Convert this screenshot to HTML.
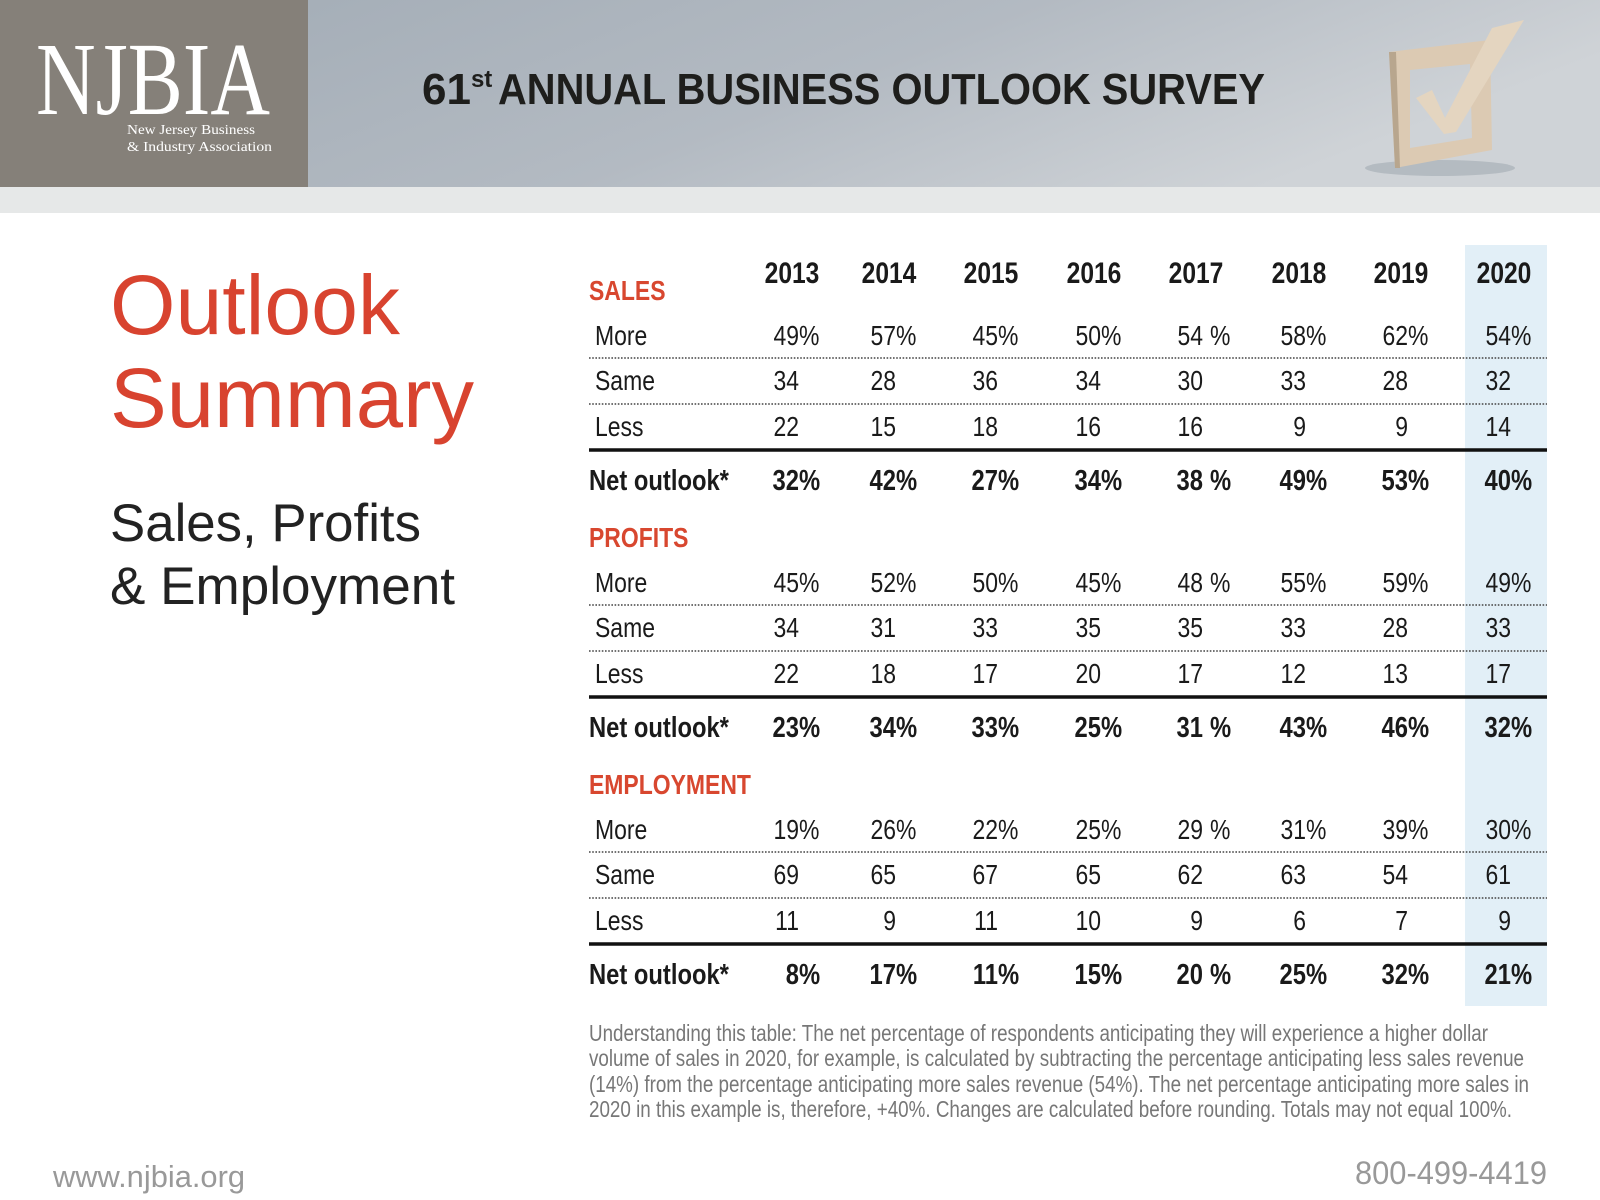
<!DOCTYPE html>
<html><head><meta charset="utf-8"><style>
html,body{margin:0;padding:0;background:#fff;width:1600px;height:1200px;overflow:hidden}
svg{display:block}
</style></head><body>
<svg id="page" xmlns="http://www.w3.org/2000/svg" width="1600" height="1200" viewBox="0 0 1600 1200">
<defs>
<linearGradient id="ban" x1="0" y1="0" x2="1" y2="0.3">
<stop offset="0" stop-color="#a0aab4"/><stop offset="0.6" stop-color="#b3bac2"/><stop offset="1" stop-color="#cfd3d7"/>
</linearGradient>
</defs>
<rect x="0" y="0" width="1600" height="187" fill="url(#ban)"/>
<rect x="0" y="187" width="1600" height="26" fill="#e6e8e8"/>
<rect x="0" y="0" width="308" height="187" fill="#858079"/>
<g>
<text x="36" y="114" font-family="Liberation Serif, serif" font-size="104" fill="#fff" textLength="234" lengthAdjust="spacingAndGlyphs">NJBIA</text>
<text x="127" y="134" font-family="Liberation Serif, serif" font-size="14" fill="#fff" textLength="128" lengthAdjust="spacingAndGlyphs">New Jersey Business</text>
<text x="127" y="151" font-family="Liberation Serif, serif" font-size="14" fill="#fff" textLength="145" lengthAdjust="spacingAndGlyphs">&amp; Industry Association</text>
</g>
<g font-family="Liberation Sans, sans-serif" font-weight="bold" fill="#1e1e1c">
<text x="422" y="104" font-size="44">61<tspan font-size="24" dy="-17">st</tspan></text>
<text x="498" y="104" font-size="44" textLength="767" lengthAdjust="spacingAndGlyphs">ANNUAL BUSINESS OUTLOOK SURVEY</text>
</g>
<g>
<ellipse cx="1440" cy="168" rx="75" ry="8" fill="#9aa3ac" opacity="0.5"/>
<path d="M1389 52 L1490 40 L1492 150 L1395 168 Z M1410 70 L1410 148 L1472 138 L1470 64 Z" fill="#dccab3" fill-rule="evenodd"/>
<path d="M1389 52 L1395 168 L1400 168 L1396 52 Z" fill="#b8a68e"/>
<path d="M1416 98 L1432 90 L1445 118 L1492 28 L1524 20 L1456 132 L1444 134 Z" fill="#e4d5c0"/>
</g>
<text x="110" y="334" font-family="Liberation Sans, sans-serif" font-size="84" fill="#d8432f" textLength="290" lengthAdjust="spacingAndGlyphs">Outlook</text>
<text x="110" y="427" font-family="Liberation Sans, sans-serif" font-size="84" fill="#d8432f" textLength="364" lengthAdjust="spacingAndGlyphs">Summary</text>
<text x="110" y="541" font-family="Liberation Sans, sans-serif" font-size="53" fill="#222" textLength="311" lengthAdjust="spacingAndGlyphs">Sales, Profits</text>
<text x="110" y="604" font-family="Liberation Sans, sans-serif" font-size="53" fill="#222" textLength="345" lengthAdjust="spacingAndGlyphs">&amp; Employment</text>
<rect x="1465" y="245" width="82" height="761" fill="#e2eff7"/>
<g id="table"></g>
<g font-family="Liberation Sans, sans-serif" font-size="23" fill="#777">
<text x="589" y="1041" textLength="899" lengthAdjust="spacingAndGlyphs">Understanding this table: The net percentage of respondents anticipating they will experience a higher dollar</text>
<text x="589" y="1066" textLength="935" lengthAdjust="spacingAndGlyphs">volume of sales in 2020, for example, is calculated by subtracting the percentage anticipating less sales revenue</text>
<text x="589" y="1092" textLength="940" lengthAdjust="spacingAndGlyphs">(14%) from the percentage anticipating more sales revenue (54%). The net percentage anticipating more sales in</text>
<text x="589" y="1117" textLength="923" lengthAdjust="spacingAndGlyphs">2020 in this example is, therefore, +40%. Changes are calculated before rounding. Totals may not equal 100%.</text>
</g>
<text x="53" y="1187" font-family="Liberation Sans, sans-serif" font-size="31" fill="#999" textLength="192" lengthAdjust="spacingAndGlyphs">www.njbia.org</text>
<text x="1547" y="1184" text-anchor="end" font-family="Liberation Sans, sans-serif" font-size="32" fill="#999" textLength="192" lengthAdjust="spacingAndGlyphs">800-499-4419</text>
</svg>
<script>
const years = [2013,2014,2015,2016,2017,2018,2019,2020];
const sections = ["SALES","PROFITS","EMPLOYMENT"];
const salesMore = [49,57,45,50,54,58,62,54];
const salesSame = [34,28,36,34,30,33,28,32];
const salesLess = [22,15,18,16,16,9,9,14];
const salesNet = [32,42,27,34,38,49,53,40];
const profitsMore = [45,52,50,45,48,55,59,49];
const profitsSame = [34,31,33,35,35,33,28,33];
const profitsLess = [22,18,17,20,17,12,13,17];
const profitsNet = [23,34,33,25,31,43,46,32];
const empMore = [19,26,22,25,29,31,39,30];
const empSame = [69,65,67,65,62,63,54,61];
const empLess = [11,9,11,10,9,6,7,9];
const empNet = [8,17,11,15,20,25,32,21];

const NS = "http://www.w3.org/2000/svg";
const tbl = document.getElementById('table');
const colR = [799,896,998,1101,1203,1306,1408,1511];
const pctSpace = [0,0,0,0,1,0,0,0];
const xOf = i => colR[i];
const SX = 0.82;
function txt(x,y,s,opt){
  const t = document.createElementNS(NS,'text');
  t.setAttribute('transform','translate('+x+','+y+') scale('+SX+',1)');
  t.setAttribute('font-family','Liberation Sans, sans-serif');
  t.setAttribute('font-size',opt.size||28);
  if(opt.bold) t.setAttribute('font-weight','bold');
  t.setAttribute('fill',opt.fill||'#1a1a1a');
  if(opt.anchor) t.setAttribute('text-anchor',opt.anchor);
  t.textContent = s;
  tbl.appendChild(t);
  return t;
}
function line(y,thick,name){
  const l = document.createElementNS(NS,'line');
  l.setAttribute('x1',589); l.setAttribute('x2',1547);
  l.setAttribute('y1',y); l.setAttribute('y2',y);
  l.setAttribute('stroke',thick?'#111':'#444');
  l.setAttribute('stroke-width',thick?3.5:1.6);
  if(!thick) l.setAttribute('stroke-dasharray','1.6,1.6');
  
  
  tbl.appendChild(l);
}
years.forEach((yr,i)=>{
  const t = txt(xOf(i)-7,283,String(yr),{bold:true,size:30,anchor:'middle'});
  
  
});
const blocks = [
  [salesMore,salesSame,salesLess,salesNet],
  [profitsMore,profitsSame,profitsLess,profitsNet],
  [empMore,empSame,empLess,empNet]
];
const rowNames = ['More','Same','Less'];
blocks.forEach((b,k)=>{
  const off = k*247;
  const h = txt(589,300+off,sections[k],{bold:true,size:28,fill:'#d8472f'});
  
  
  const ys = [345,390,436];
  for(let r=0;r<3;r++){
    const lb = txt(595,ys[r]+off,rowNames[r],{size:28});
    
    
    b[r].forEach((v,i)=>{
      const n = txt(xOf(i),ys[r]+off,String(v),{size:28,anchor:'end'});
      
      
      if(r===0){
        const p = txt(xOf(i)+(pctSpace[i]?7:0),ys[r]+off,'%',{size:28});
        
        
      }
    });
  }
  line(358+off,false,'dotted-rule');
  line(404+off,false,'dotted-rule');
  line(450+off,true,'net-rule');
  const nl = txt(589,490+off,'Net outlook*',{bold:true,size:29});
  
  
  b[3].forEach((v,i)=>{
    const n = txt(xOf(i),490+off,String(v),{bold:true,size:29,anchor:'end'});
    
    
    const p = txt(xOf(i)+(pctSpace[i]?7:0),490+off,'%',{bold:true,size:29});
    
    
  });
});
</script>
</body></html>
